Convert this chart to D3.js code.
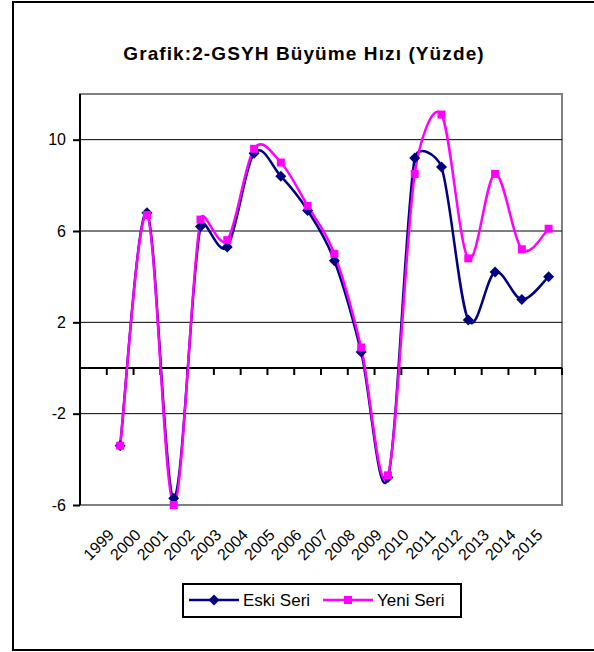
<!DOCTYPE html>
<html>
<head>
<meta charset="utf-8">
<script src="https://cdn.jsdelivr.net/npm/d3@7"></script>
<style>
	body { margin: 0; background: #fff; }
	svg { display: block; font-family: Arial, "Liberation Sans", sans-serif; }
</style>
</head>
<body>
<div id="chart"></div>
<script>
const years = ["", "1999", "2000", "2001", "2002", "2003", "2004", "2005", "2006", "2007",
	"2008", "2009", "2010", "2011", "2012", "2013", "2014", "2015"];
const eskiSeri = [-3.4, 6.8, -5.7, 6.2, 5.3, 9.4, 8.4, 6.9, 4.7, 0.7, -4.8, 9.2, 8.8, 2.1, 4.2, 3.0, 4.0];
const yeniSeri = [-3.4, 6.7, -6.0, 6.5, 5.6, 9.6, 9.0, 7.1, 5.0, 0.9, -4.7, 8.5, 11.1, 4.8, 8.5, 5.2, 6.1];
const yTicks = [-6, -2, 2, 6, 10];
const title = "Grafik:2-GSYH Büyüme Hızı (Yüzde)";

const width = 594, height = 652;
const plot = {left: 80, right: 562, top: 94, bottom: 505};

const svg = d3.select("#chart").append("svg")
	.attr("width", width)
	.attr("height", height);

// outer chart border
svg.append("rect")
	.attr("x", 13)
	.attr("y", 2)
	.attr("width", 600)
	.attr("height", 648)
	.attr("fill", "none")
	.attr("stroke", "#000")
	.attr("stroke-width", 2);

svg.append("text")
	.attr("x", 304)
	.attr("y", 60)
	.attr("text-anchor", "middle")
	.style("font-size", "19px")
	.style("font-weight", "bold")
	.style("letter-spacing", "1.1px")
	.text(title);

const x = d3.scaleBand().domain(years).range([plot.left, plot.right]).padding(0);
const y = d3.scaleLinear().domain([-6, 12]).range([plot.bottom, plot.top]);
const cx = d => x(d) + x.bandwidth() / 2;

// plot area border (grey)
svg.append("rect")
	.attr("x", plot.left)
	.attr("y", plot.top)
	.attr("width", plot.right - plot.left)
	.attr("height", plot.bottom - plot.top)
	.attr("fill", "none")
	.attr("stroke", "#808080")
	.attr("stroke-width", 2);

// gridlines
svg.append("g").selectAll("line")
	.data(yTicks.filter(v => v > -6))
	.enter().append("line")
	.attr("x1", plot.left)
	.attr("x2", plot.right)
	.attr("y1", d => y(d))
	.attr("y2", d => y(d))
	.attr("stroke", "#000")
	.attr("stroke-width", 1);

// y axis
const leftAxis = svg.append("g")
	.attr("transform", "translate(" + plot.left + ",0)")
	.call(d3.axisLeft(y).tickValues(yTicks).tickSize(7).tickSizeOuter(0).tickPadding(7)
		.tickFormat(d => d < 0 ? "-" + Math.abs(d) : d));
leftAxis.select(".domain").attr("stroke-width", 2).attr("d", "M0," + plot.top + "V" + plot.bottom);
leftAxis.selectAll(".tick line").attr("stroke-width", 2);
leftAxis.selectAll(".tick text")
	.style("font-size", "16px")
	.style("font-family", "Arial, 'Liberation Sans', sans-serif")
	.attr("fill", "#000");

// x axis at zero, ticks between categories
const x0 = y(0);
const bounds = years.slice(1).map(d => x(d)).concat([plot.right]);
const xAxis = svg.append("g");
xAxis.append("line")
	.attr("x1", plot.left)
	.attr("x2", plot.right)
	.attr("y1", x0)
	.attr("y2", x0)
	.attr("stroke", "#000")
	.attr("stroke-width", 2);
xAxis.selectAll(".xtick")
	.data(bounds)
	.enter().append("line")
	.attr("class", "xtick")
	.attr("x1", d => d)
	.attr("x2", d => d)
	.attr("y1", x0)
	.attr("y2", x0 + 7)
	.attr("stroke", "#000")
	.attr("stroke-width", 2);

svg.append("g").selectAll("text")
	.data(years.slice(1))
	.enter().append("text")
	.attr("transform", d => "translate(" + (cx(d) - 9) + "," + 532 + ") rotate(-45)")
	.attr("text-anchor", "end")
	.attr("dy", "0.35em")
	.style("font-size", "16px")
	.text(d => d);

// series
const series = [
	{name: "Eski Seri", values: eskiSeri, color: "#000080", marker: "diamond"},
	{name: "Yeni Seri", values: yeniSeri, color: "#FF00FF", marker: "square"}
];

// Excel-like smoothing: bezier with control points limited by segment length
function smoothPath(pts) {
	const p = d3.path();
	const dist = (a, b) => Math.hypot(b[0] - a[0], b[1] - a[1]);
	p.moveTo(pts[0][0], pts[0][1]);
	for (let i = 0; i < pts.length - 1; i++) {
		const p0 = pts[Math.max(i - 1, 0)], p1 = pts[i], p2 = pts[i + 1],
			p3 = pts[Math.min(i + 2, pts.length - 1)];
		const d12 = dist(p1, p2);
		const d02 = dist(p0, p2), d13 = dist(p1, p3);
		const f1 = d02 ? Math.min(1 / 6, 0.5 * d12 / d02) : 0;
		const f2 = d13 ? Math.min(1 / 6, 0.5 * d12 / d13) : 0;
		p.bezierCurveTo(
			p1[0] + f1 * (p2[0] - p0[0]), p1[1] + f1 * (p2[1] - p0[1]),
			p2[0] - f2 * (p3[0] - p1[0]), p2[1] - f2 * (p3[1] - p1[1]),
			p2[0], p2[1]);
	}
	return p.toString();
}

const markerPath = {
	diamond: "M0,-5.5L5.5,0L0,5.5L-5.5,0Z",
	square: "M-4,-4H4V4H-4Z"
};

series.forEach(s => {
	const pts = s.values.map((d, i) => [cx(years[i + 1]), y(d)]);
	svg.append("path")
		.attr("d", smoothPath(pts))
		.attr("fill", "none")
		.attr("stroke", s.color)
		.attr("stroke-width", 2.5);
});

series.forEach(s => {
	svg.append("g").selectAll("path")
		.data(s.values)
		.enter().append("path")
		.attr("transform", (d, i) => "translate(" + cx(years[i + 1]) + "," + y(d) + ")")
		.attr("d", markerPath[s.marker])
		.attr("fill", s.color);
});

// legend
const legend = svg.append("g");
legend.append("rect")
	.attr("x", 183)
	.attr("y", 584)
	.attr("width", 278)
	.attr("height", 33)
	.attr("fill", "#fff")
	.attr("stroke", "#000")
	.attr("stroke-width", 2);

const legendX = [189, 323];
series.forEach((s, i) => {
	const lx = legendX[i];
	legend.append("line")
		.attr("x1", lx)
		.attr("x2", lx + 50)
		.attr("y1", 600)
		.attr("y2", 600)
		.attr("stroke", s.color)
		.attr("stroke-width", 2.5);
	legend.append("path")
		.attr("transform", "translate(" + (lx + 25) + ",600)")
		.attr("d", markerPath[s.marker])
		.attr("fill", s.color);
	legend.append("text")
		.attr("x", lx + 54)
		.attr("y", 606)
		.style("font-size", "17px")
		.text(s.name);
});
</script>
</body>
</html>
